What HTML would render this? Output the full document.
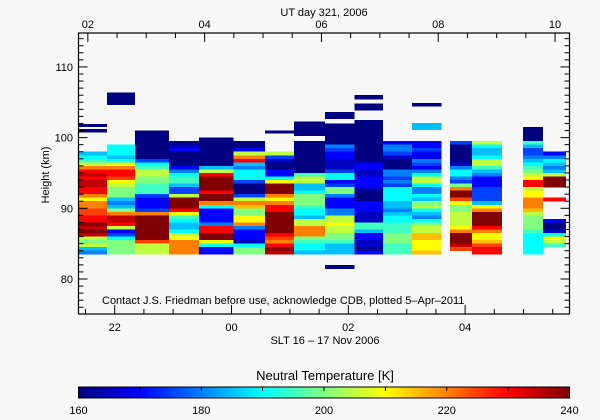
<!DOCTYPE html>
<html><head><meta charset="utf-8">
<style>
html,body{margin:0;padding:0;background:#f8f8f8;}
svg{display:block;font-family:"Liberation Sans",sans-serif;}
text{fill:#000;font-size:11px;}
</style></head>
<body>
<svg id="chart" width="600" height="420" viewBox="0 0 600 420">
<defs>
<linearGradient id="jet" x1="0" x2="1" y1="0" y2="0">
<stop offset="0" stop-color="rgb(0,0,128)"/><stop offset="0.125" stop-color="rgb(0,0,255)"/>
<stop offset="0.25" stop-color="rgb(0,128,255)"/><stop offset="0.375" stop-color="rgb(0,255,255)"/>
<stop offset="0.5" stop-color="rgb(128,255,128)"/><stop offset="0.625" stop-color="rgb(255,255,0)"/>
<stop offset="0.75" stop-color="rgb(255,128,0)"/><stop offset="0.875" stop-color="rgb(255,0,0)"/>
<stop offset="1" stop-color="rgb(128,0,0)"/>
</linearGradient>
</defs>
<g id="cells" shape-rendering="crispEdges"></g>
<rect x="78.5" y="33" width="491" height="281" fill="none" stroke="#000" stroke-width="1.2"/>
<g id="axes"></g>
<text x="324" y="16" text-anchor="middle">UT day 321, 2006</text>
<text x="325" y="344" text-anchor="middle">SLT 16 – 17 Nov 2006</text>
<text transform="translate(49,175) rotate(-90)" text-anchor="middle">Height (km)</text>
<text x="102" y="304">Contact J.S. Friedman before use, acknowledge CDB, plotted 5–Apr–2011</text>
<text x="325" y="380" text-anchor="middle" font-size="13" style="font-size:13px">Neutral Temperature [K]</text>
<rect x="78.5" y="387" width="491" height="11" fill="url(#jet)" stroke="#000" stroke-width="1"/>
<g id="cbticks"></g>
</svg>
<script>
// SLT hours (values >24 are after midnight)
const colStart=[21.37,21.87,22.35,22.93,23.44,24.03,24.57,25.07,25.60,26.11,26.59,27.09,27.74,28.12,28.99,29.33];
const colEnd  =[21.87,22.35,22.93,23.44,24.03,24.57,25.07,25.60,26.11,26.59,27.09,27.60,28.12,28.63,29.33,29.73];
const colTop  =[98,99,101,99.5,100,99.5,98,99.5,102,102.5,99.5,99.5,99.5,99.5,101.5,98];
// temperature codes per 0.5 km bin from top down: T = 160 + 5*index in "0123456789abcdefg"; '.' = no data
const colCodes=[
"5679cefeffeecaccddeegfgf98954",
"66656aceeda98885458cffe92368888",
"00000000367998877732223cgggggggd999",
"0120000246775339gggea765569acccc",
"0000000059eggggeggc622224eegga622",
"0029ce54666300039cb88aac42221688",
"93100226agggcaceeggggggedcegf",
"0000000007995568887665 99ccc87665".replace(/ /g,''),
"0000004322111366238842224499a99887555",
"00000000000022112221000222111775221102",
"24431000443436666554566777888777",
"22322432469964465896546899bbaaab",
"3000001466438cggda889999acgggfd",
"965569975422233335acggggecaabdee",
"00007533456789aee9aacccb988887666666",
"2465459ggg...e.....20016a97"
];
const barStart=[21.37,21.37,21.87,24.57,25.07,25.60,25.60,26.11,26.11,27.09,27.09];
const barEnd  =[21.87,21.87,22.35,25.07,25.60,26.11,26.11,26.59,26.59,27.60,27.60];
const barTop  =[101.9,101.2,106.4,101.0,102.3,103.6,82.0,106.0,104.8,104.9,102.1];
const barBot  =[101.5,100.7,104.6,100.6,100.2,102.6,81.4,105.4,103.8,104.4,101.1];
const barCode =["0","0","0","0","0","0","0","0","0","0","5"];
const yTicks=[80,90,100,110];
const sltTicks=[22,24,26,28];
const sltLabels=["22","00","02","04"];
const utTicks=[2,4,6,8,10];
const utLabels=["02","04","06","08","10"];
const cbTicks=[160,180,200,220,240];
const utOffset=4.46;
const codes="0123456789abcdefg";
const NS="http://www.w3.org/2000/svg";
const X=t=>78.5+(t-21.38)*58.4;
const Y=h=>279-(h-80)*7.07;
const C=T=>78.5+(T-160)/80*491;
const stops=[[0,0,128],[0,0,255],[0,128,255],[0,255,255],[128,255,128],[255,255,0],[255,128,0],[255,0,0],[128,0,0]];
function color(T){let f=(T-160)/10;f=Math.max(0,Math.min(8,f));const i=Math.min(7,Math.floor(f)),r=f-i;
 const a=stops[i],b=stops[i+1];return `rgb(${a.map((v,k)=>Math.round(v+(b[k]-v)*r)).join(',')})`;}
function mk(tag,attrs,parent){const e=document.createElementNS(NS,tag);for(const k in attrs)e.setAttribute(k,attrs[k]);parent.appendChild(e);return e;}
const cells=document.getElementById('cells');
colCodes.forEach((s,c)=>{
 for(let i=0;i<s.length;i++){
  const ch=s[i]; if(ch==='.')continue;
  const T=160+5*codes.indexOf(ch);
  const h=colTop[c]-0.5*i;
  const x0=X(colStart[c]),x1=X(colEnd[c]);
  const r=mk('rect',{x:x0.toFixed(2),y:Y(h).toFixed(2),width:(x1-x0).toFixed(2),height:(0.5*7.07+0.4).toFixed(2),fill:color(T)},cells);
  
  
 }
});
barCode.forEach((ch,i)=>{
 const T=160+5*codes.indexOf(ch);
 const r=mk('rect',{x:X(barStart[i]).toFixed(2),y:Y(barTop[i]).toFixed(2),width:(X(barEnd[i])-X(barStart[i])).toFixed(2),height:(Y(barBot[i])-Y(barTop[i])).toFixed(2),fill:color(T)},cells);
 
 
});
const ax=document.getElementById('axes');
const L=(x1,y1,x2,y2)=>mk('line',{x1,y1,x2,y2,stroke:'#000','stroke-width':1},ax);
for(let h=76;h<=114;h++){const y=Y(h),len=(h%10===0)?9:5;L(78.5,y,78.5+len,y);L(569.5,y,569.5-len,y);}
yTicks.forEach(h=>{const t=mk('text',{x:73,y:Y(h)+4,'text-anchor':'end'},ax);t.textContent=h;
 
 });
for(let t=21.5;t<=29.8;t+=0.5){const x=X(t);const maj=sltTicks.some(v=>Math.abs(v-t)<0.01);L(x,314,x,314-(maj?9:5));}
sltTicks.forEach((t,i)=>{const e=mk('text',{x:X(t),y:331,'text-anchor':'middle'},ax);e.textContent=sltLabels[i];
 
 });
for(let u=26;u<=34.3;u+=0.5){const x=X(u-utOffset);if(x<78||x>570)continue;const maj=Math.abs(u-Math.round(u))<0.01&&Math.round(u)%2===0;L(x,33,x,33+(maj?9:5));}
utTicks.forEach((u,i)=>{const e=mk('text',{x:X(u+24-utOffset),y:28,'text-anchor':'middle'},ax);e.textContent=utLabels[i];
 
 });
const cb=document.getElementById('cbticks');
for(let T=170;T<240;T+=10){mk('line',{x1:C(T),y1:387,x2:C(T),y2:391,stroke:'#000','stroke-width':1},cb);}
cbTicks.forEach(T=>{const e=mk('text',{x:C(T),y:414,'text-anchor':'middle'},cb);e.textContent=T;
 
 });
</script>
</body></html>
